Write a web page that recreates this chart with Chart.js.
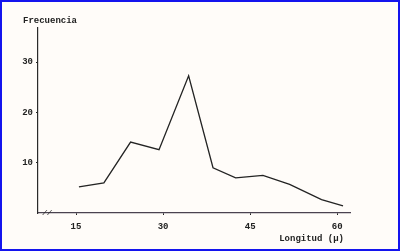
<!DOCTYPE html>
<html>
<head>
<meta charset="utf-8">
<script src="https://cdn.jsdelivr.net/npm/chart.js@4"></script>
<style>
html,body{margin:0;padding:0;background:#fffcf9;}
#wrap{position:relative;width:400px;height:251px;}
#marco{position:absolute;left:0;top:0;width:400px;height:251px;box-sizing:border-box;border:2px solid #1414ee;pointer-events:none;}
canvas{position:absolute;left:0;top:0;}
</style>
</head>
<body>
<div id="wrap">
<canvas id="grafico" width="400" height="251"></canvas>
<div id="marco"></div>
</div>
<script>
// valores
const longitud = [15.5, 19.8, 24.4, 29.3, 34.4, 38.6, 42.5, 47.2, 51.8, 57.3, 61.0];
const frecuencia = [5.2, 6.0, 14.1, 12.6, 27.3, 9.0, 7.0, 7.5, 5.7, 2.65, 1.4];
const ticksX = [15, 30, 45, 60];
const ticksY = [10, 20, 30];

const fuente = "'Liberation Mono', 'DejaVu Sans Mono', monospace";

const textos = {
  id: "textos",
  afterDraw(chart) {
    const ctx = chart.ctx;
    ctx.save();
    ctx.fillStyle = "#222";
    ctx.font = "bold 9px " + fuente;
    ctx.textBaseline = "alphabetic";
    ctx.fillText("Frecuencia", 23, 23);
    ctx.textAlign = "right";
    ctx.fillText("Longitud (µ)", 344, 241);
    // corte del eje x
    ctx.font = "italic 8px " + fuente;
    ctx.textAlign = "center";
    ctx.textBaseline = "middle";
    ctx.fillText("//", 47, chart.chartArea.bottom);
    ctx.restore();
  }
};

new Chart(document.getElementById("grafico"), {
  type: "line",
  data: {
    datasets: [{
      data: longitud.map((x, i) => ({x: x, y: frecuencia[i]})),
      borderColor: "#232323",
      borderWidth: 1.3,
      pointRadius: 0,
      tension: 0,
      fill: false
    }]
  },
  options: {
    responsive: false,
    animation: false,
    devicePixelRatio: 1,
    layout: {padding: {left: 0, right: 50, top: 28, bottom: 0}},
    plugins: {legend: {display: false}, tooltip: {enabled: false}},
    scales: {
      x: {
        type: "linear",
        min: 8.45,
        max: 62.2,
        afterBuildTicks: s => { s.ticks = ticksX.map(v => ({value: v})); },
        afterFit: s => { s.height = 38; },
        border: {color: "#4a4250", width: 1.3},
        grid: {drawOnChartArea: false, tickLength: 2, color: "#222"},
        ticks: {color: "#222", padding: 6, font: {family: fuente, size: 9, weight: "bold"}}
      },
      y: {
        min: 0,
        max: 36.8,
        afterBuildTicks: s => { s.ticks = ticksY.map(v => ({value: v})); },
        afterFit: s => { s.width = 38; },
        border: {color: "#2a2a2a", width: 1.2},
        grid: {drawOnChartArea: false, tickLength: 2, color: "#222"},
        ticks: {color: "#222", padding: 3, font: {family: fuente, size: 9, weight: "bold"}}
      }
    }
  },
  plugins: [textos]
});
</script>
</body>
</html>
